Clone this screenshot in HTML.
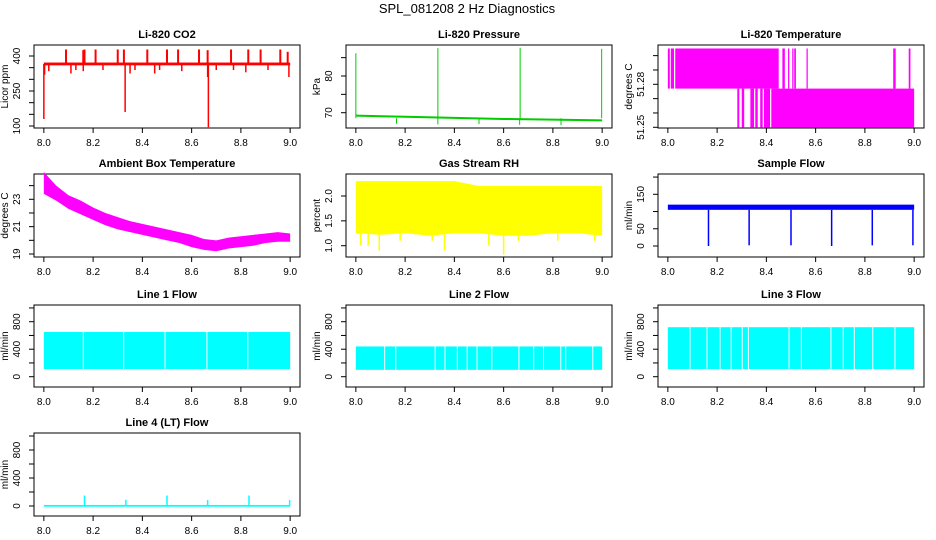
<!DOCTYPE html>
<html><head><meta charset="utf-8">
<style>
html,body{margin:0;padding:0;background:#fff;}
svg{display:block;font-family:"Liberation Sans",sans-serif;}
</style></head>
<body>
<svg id="chart" width="936" height="540" viewBox="0 0 936 540" xmlns="http://www.w3.org/2000/svg">
<text x="467" y="13" font-size="13" text-anchor="middle">SPL_081208  2 Hz Diagnostics</text>
</svg>
<script>
// ---- data arrays ----
const xTicks = [8.0, 8.2, 8.4, 8.6, 8.8, 9.0];
const xTickLabels = ["8.0", "8.2", "8.4", "8.6", "8.8", "9.0"];

const co2Base = 366;
const co2UpTimes = [8.09, 8.16, 8.165, 8.21, 8.30, 8.325, 8.42, 8.50, 8.545, 8.63, 8.665, 8.76, 8.83, 8.88, 8.96, 8.99];
const co2UpVals  = [428, 425, 428, 428, 428, 428, 428, 428, 428, 428, 425, 428, 428, 428, 428, 418];
const co2DownTimes = [8.0, 8.003, 8.02, 8.11, 8.13, 8.16, 8.24, 8.33, 8.35, 8.37, 8.45, 8.47, 8.56, 8.665, 8.668, 8.70, 8.77, 8.82, 8.91, 8.995];
const co2DownVals  = [130, 320, 335, 325, 340, 335, 340, 160, 325, 340, 325, 340, 335, 310, 95, 340, 340, 330, 340, 310];

const presTimes = [8.0, 8.2, 8.4, 8.6, 8.8, 9.0];
const presBase  = [69.2, 68.9, 68.6, 68.3, 68.1, 67.9];
const presSpikeTimes = [8.0, 8.333, 8.667, 8.998];
const presSpikeVals  = [86.2, 87.6, 87.7, 87.4];
const presDipTimes = [8.165, 8.333, 8.5, 8.665, 8.833];
const presDipVals  = [67.0, 66.8, 66.9, 66.7, 66.6];

const tempBandStart = [8.0, 8.012, 8.03, 8.282, 8.30, 8.335, 8.355, 8.375, 8.39, 8.42, 8.465, 8.488, 8.505, 8.513, 8.563, 8.915, 8.978];
const tempBandEnd   = [8.008, 8.025, 8.45, 8.29, 8.31, 8.35, 8.365, 8.385, 8.415, 9.0, 8.475, 8.493, 8.51, 8.52, 8.568, 8.925, 8.985];
const tempBandLo    = [51.277, 51.277, 51.277, 51.25, 51.25, 51.25, 51.25, 51.25, 51.25, 51.25, 51.277, 51.277, 51.277, 51.277, 51.277, 51.277, 51.277];
const tempBandHi    = [51.305, 51.305, 51.305, 51.277, 51.277, 51.277, 51.277, 51.277, 51.277, 51.277, 51.305, 51.305, 51.305, 51.305, 51.305, 51.305, 51.305];

const ambTimes = [8.0, 8.05, 8.1, 8.15, 8.2, 8.25, 8.3, 8.35, 8.4, 8.45, 8.5, 8.55, 8.6, 8.65, 8.7, 8.75, 8.8, 8.85, 8.9, 8.95, 9.0];
const ambLo    = [23.4, 22.9, 22.3, 21.9, 21.5, 21.1, 20.8, 20.6, 20.4, 20.2, 20.0, 19.8, 19.5, 19.3, 19.2, 19.4, 19.5, 19.6, 19.8, 19.9, 19.9];
const ambHi    = [25.0, 24.0, 23.3, 22.9, 22.4, 22.0, 21.7, 21.4, 21.2, 21.0, 20.8, 20.6, 20.4, 20.1, 20.0, 20.2, 20.3, 20.4, 20.5, 20.6, 20.5];

const rhTimes = [8.0, 8.1, 8.2, 8.3, 8.4, 8.5, 8.6, 8.7, 8.8, 8.9, 9.0];
const rhLo    = [1.25, 1.22, 1.25, 1.2, 1.25, 1.25, 1.2, 1.2, 1.25, 1.25, 1.2];
const rhHi    = [2.3, 2.3, 2.3, 2.3, 2.3, 2.2, 2.2, 2.2, 2.2, 2.2, 2.2];
const rhSpikeTimes = [8.02, 8.05, 8.095, 8.18, 8.31, 8.36, 8.54, 8.6, 8.66, 8.82, 8.97];
const rhSpikeVals  = [1.0, 1.0, 0.9, 1.1, 1.1, 0.9, 1.0, 0.82, 1.1, 1.1, 1.1];

const sfLo = 105;
const sfHi = 120;
const sfDipTimes = [8.165, 8.33, 8.5, 8.665, 8.83, 8.995];
const sfDipVals  = [0, 2, 2, 0, 2, 2];

const l1Lo = 110, l1Hi = 650;
const l1Gaps = [8.158, 8.322, 8.49, 8.66, 8.826];
const l2Lo = 100, l2Hi = 440;
const l2Gaps = [8.115, 8.16, 8.32, 8.36, 8.41, 8.45, 8.49, 8.55, 8.66, 8.72, 8.76, 8.83, 8.85, 8.96];
const l3Lo = 110, l3Hi = 720;
const l3Gaps = [8.088, 8.157, 8.21, 8.255, 8.3, 8.325, 8.49, 8.54, 8.66, 8.71, 8.755, 8.83, 8.92];

const l4Base = 5;
const l4SpikeTimes = [8.165, 8.333, 8.5, 8.665, 8.833, 8.998];
const l4SpikeVals  = [150, 90, 150, 85, 150, 85];

// ---- layout ----
const svg = document.getElementById('chart');
const NS = 'http://www.w3.org/2000/svg';
function mk(tag, attrs, parent) {
  const e = document.createElementNS(NS, tag);
  for (const k in attrs) e.setAttribute(k, attrs[k]);
  (parent || svg).appendChild(e);
  return e;
}
const colLeft = [34, 346, 658];
const rowTop = [45, 174, 305, 433];
const rowBot = [128, 257, 387, 516];
const BW = 266;

function makePanel(col, row, title, yTitle, cal, yTicks, yLabels, name) {
  const L = colLeft[col], R = L + BW, T = rowTop[row], B = rowBot[row];
  const g = mk('g', {});
  
  
  const x = v => L + BW * (v - 7.96) / 1.08;
  const y = v => cal[1] + (v - cal[0]) * (cal[3] - cal[1]) / (cal[2] - cal[0]);
  const box = mk('rect', {x: L, y: T, width: BW, height: B - T, fill: 'none', stroke: '#000', 'stroke-width': 1}, g);
  
  
  const t = mk('text', {x: (L + R) / 2, y: T - 7, 'font-size': 11, 'font-weight': 'bold', 'text-anchor': 'middle'}, g);
  t.textContent = title;
  
  
  const xa = mk('g', {}, g);
  
  
  mk('line', {x1: x(xTicks[0]), x2: x(xTicks[xTicks.length - 1]), y1: B, y2: B, stroke: '#000'}, xa);
  xTicks.forEach((v, i) => {
    mk('line', {x1: x(v), x2: x(v), y1: B, y2: B + 5, stroke: '#000'}, xa);
    const tl = mk('text', {x: x(v), y: B + 18, 'font-size': 10, 'text-anchor': 'middle'}, xa);
    tl.textContent = xTickLabels[i];
  });
  const ya = mk('g', {}, g);
  
  
  mk('line', {x1: L, x2: L, y1: y(yTicks[0]), y2: y(yTicks[yTicks.length - 1]), stroke: '#000'}, ya);
  yTicks.forEach(v => {
    mk('line', {x1: L - 5, x2: L, y1: y(v), y2: y(v), stroke: '#000'}, ya);
  });
  yLabels.forEach(lb => {
    const v = parseFloat(lb);
    const tl = mk('text', {x: 0, y: 0, 'font-size': 10, 'text-anchor': 'middle', transform: `translate(${L - 14},${y(v)}) rotate(-90)`}, ya);
    tl.textContent = lb;
  });
  const yt = mk('text', {x: 0, y: 0, 'font-size': 10, 'text-anchor': 'middle', transform: `translate(${L - 26},${(T + B) / 2}) rotate(-90)`}, g);
  yt.textContent = yTitle;
  
  
  const data = mk('g', {}, g);
  
  
  return {x, y, g: data};
}
function vline(p, t, a, b, color, w) {
  mk('line', {x1: p.x(t), x2: p.x(t), y1: p.y(a), y2: p.y(b), stroke: color, 'stroke-width': w || 1}, p.g);
}
function rectB(p, t0, t1, lo, hi, color) {
  mk('rect', {x: p.x(t0), y: p.y(hi), width: Math.max(0.5, p.x(t1) - p.x(t0)), height: p.y(lo) - p.y(hi), fill: color}, p.g);
}
function bandPoly(p, ts, lo, hi, color) {
  const pts = ts.map((t, i) => p.x(t) + ',' + p.y(hi[i]));
  for (let i = ts.length - 1; i >= 0; i--) pts.push(p.x(ts[i]) + ',' + p.y(lo[i]));
  mk('polygon', {points: pts.join(' '), fill: color}, p.g);
}

let p = makePanel(0, 0, 'Li-820 CO2', 'Licor ppm', [100, 126, 400, 56], [100, 150, 200, 250, 300, 350, 400], ['100', '250', '400'], 'co2');
rectB(p, 8.0, 9.0, co2Base - 6, co2Base + 6, 'red');
co2UpTimes.forEach((t, i) => vline(p, t, co2Base, co2UpVals[i], 'red', 2));
co2DownTimes.forEach((t, i) => vline(p, t, co2Base, co2DownVals[i], 'red', 1.5));

p = makePanel(1, 0, 'Li-820 Pressure', 'kPa', [70, 112.7, 80, 76], [70, 75, 80, 85], ['70', '80'], 'pressure');
mk('polyline', {points: presTimes.map((t, i) => p.x(t) + ',' + p.y(presBase[i])).join(' '), fill: 'none', stroke: '#00cc00', 'stroke-width': 2}, p.g);
presSpikeTimes.forEach((t, i) => vline(p, t, 68.5, presSpikeVals[i], '#00cc00', 1));
presDipTimes.forEach((t, i) => vline(p, t, 68.5, presDipVals[i], '#00cc00', 1));

p = makePanel(2, 0, 'Li-820 Temperature', 'degrees C', [51.25, 127.3, 51.28, 84.3], [51.25, 51.26, 51.27, 51.28, 51.29, 51.30], ['51.25', '51.28'], 'li820-temperature');
tempBandStart.forEach((t, i) => rectB(p, t, tempBandEnd[i], tempBandLo[i], tempBandHi[i], 'magenta'));

p = makePanel(0, 1, 'Ambient Box Temperature', 'degrees C', [19, 254, 23, 199.3], [19, 20, 21, 22, 23, 24], ['19', '21', '23'], 'ambient-temperature');
bandPoly(p, ambTimes, ambLo, ambHi, 'magenta');

p = makePanel(1, 1, 'Gas Stream RH', 'percent', [1.0, 245.7, 2.0, 196], [1.0, 1.5, 2.0], ['1.0', '1.5', '2.0'], 'gas-stream-rh');
bandPoly(p, rhTimes, rhLo, rhHi, 'yellow');
rhSpikeTimes.forEach((t, i) => vline(p, t, 1.3, rhSpikeVals[i], 'yellow', 1.5));

p = makePanel(2, 1, 'Sample Flow', 'ml/min', [0, 246, 150, 194.3], [0, 50, 100, 150, 200], ['0', '50', '150'], 'sample-flow');
rectB(p, 8.0, 9.0, sfLo, sfHi, 'blue');
sfDipTimes.forEach((t, i) => vline(p, t, sfLo, sfDipVals[i], 'blue', 1.5));

function flowPanel(col, row, title, lo, hi, gaps, name, cal) {
  const pp = makePanel(col, row, title, 'ml/min', cal, [0, 200, 400, 600, 800, 1000], ['0', '400', '800'], name);
  rectB(pp, 8.0, 9.0, lo, hi, 'cyan');
  gaps.forEach(t => rectB(pp, t, t + 0.004, lo, hi, '#fff'));
  return pp;
}
flowPanel(0, 2, 'Line 1 Flow', l1Lo, l1Hi, l1Gaps, 'line1-flow', [0, 376.7, 800, 321.7]);
flowPanel(1, 2, 'Line 2 Flow', l2Lo, l2Hi, l2Gaps, 'line2-flow', [0, 376.7, 800, 321.7]);
flowPanel(2, 2, 'Line 3 Flow', l3Lo, l3Hi, l3Gaps, 'line3-flow', [0, 376.7, 800, 321.7]);

p = makePanel(0, 3, 'Line 4 (LT) Flow', 'ml/min', [0, 506, 800, 450], [0, 200, 400, 600, 800, 1000], ['0', '400', '800'], 'line4-flow');
rectB(p, 8.0, 9.0, l4Base - 15, l4Base + 10, 'cyan');
l4SpikeTimes.forEach((t, i) => vline(p, t, l4Base, l4SpikeVals[i], 'cyan', 1.5));
</script>
</body></html>
